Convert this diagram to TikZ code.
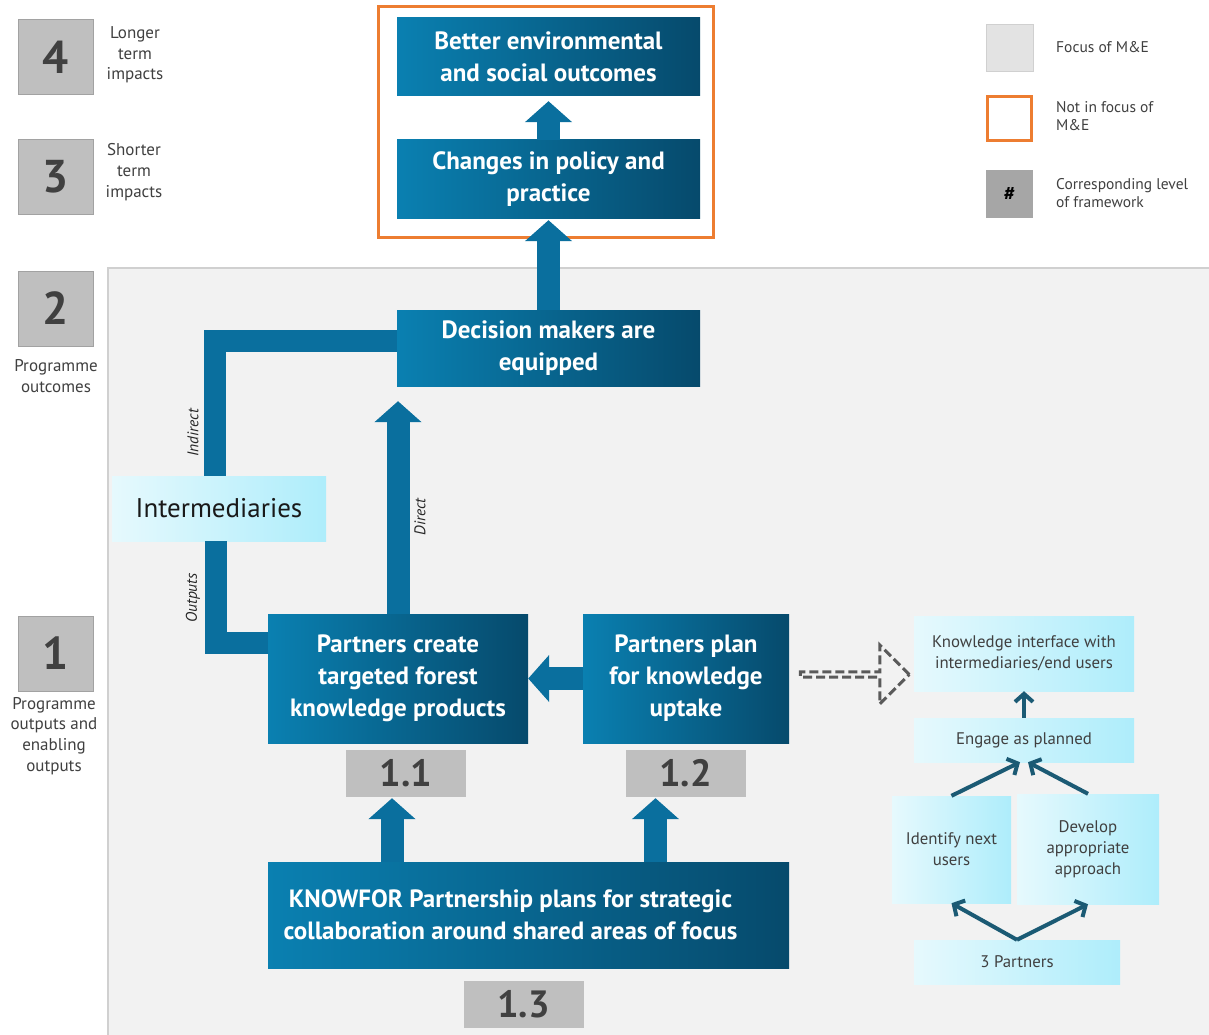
\documentclass[tikz,border=0pt]{standalone}
\usepackage{fontspec}
\setmainfont{PT Sans}
\usetikzlibrary{arrows.meta,shapes.arrows}
\definecolor{boxleft}{HTML}{0A80B1}
\definecolor{boxright}{HTML}{064A6C}
\definecolor{flowblue}{HTML}{0A6F9E}
\definecolor{paleleft}{HTML}{E6F9FD}
\definecolor{paleright}{HTML}{AEEDFB}
\definecolor{levelgray}{HTML}{BFBFBF}
\definecolor{focusgray}{HTML}{F2F2F2}
\definecolor{framegray}{HTML}{D0D0D0}
\definecolor{legendgray}{HTML}{E3E3E3}
\definecolor{hashgray}{HTML}{A6A6A6}
\definecolor{notfocus}{HTML}{ED7D31}
\definecolor{darktext}{HTML}{404040}
\definecolor{tealline}{HTML}{1B5A74}
\definecolor{hollowgray}{HTML}{5A5A5A}
\tikzstyle{darkbox}=[left color=boxleft, right color=boxright, text=white, align=center, inner sep=0pt, font=\fontsize{25}{32}\selectfont\bfseries]
\tikzstyle{palebox}=[left color=paleleft, right color=paleright, text=darktext, align=center, inner sep=0pt, font=\fontsize{16.8}{21}\selectfont]
\tikzstyle{levelbox}=[fill=levelgray, draw=levelgray!85!black, line width=0.6pt, minimum size=75pt, inner sep=0pt, text=darktext, font=\fontsize{46}{46}\selectfont\bfseries]
\tikzstyle{numbox}=[fill=levelgray, minimum height=47pt, inner sep=0pt, text=darktext, font=\fontsize{38}{38}\selectfont\bfseries]
\tikzstyle{levellabel}=[align=center, text=darktext, font=\fontsize{17}{20.7}\selectfont]
\tikzstyle{sidelabel}=[rotate=90, text=black!85, font=\fontsize{15.5}{15.5}\selectfont\itshape]
\tikzstyle{fat edge}=[draw=flowblue, line width=23pt, -{Triangle[length=21pt,width=46pt]}]
\tikzstyle{flow band}=[draw=flowblue, line width=22pt]
\tikzstyle{thin edge}=[draw=tealline, line width=4pt, -{Straight Barb[length=8pt,width=18pt]}]
\tikzstyle{hollow arrow}=[single arrow, draw=hollowgray, line width=3pt, dash pattern=on 9pt off 4pt, minimum height=109pt, minimum width=59pt, single arrow head extend=16pt, inner sep=0pt]
\tikzstyle{legend text}=[anchor=west, align=left, inner sep=0pt, text=darktext, font=\fontsize{15.5}{18}\selectfont]
\begin{document}
\begin{tikzpicture}[x=1pt, y=-1pt]
\useasboundingbox (0,0) rectangle (1209,1035);
\fill[white] (0,0) rectangle (1209,1035);

% the area that is the focus of M&E
\fill[focusgray] (108,268) rectangle (1209,1035);
\draw[framegray, line width=1.2pt] (108,1035) -- (108,268) -- (1209,268);

% levels of the framework
\foreach \pos/\name/\num in {{(56,57)/lvfour/4}, {(56,177)/lvthree/3}, {(55.5,308.5)/lvtwo/2}, {(56,653.5)/lvone/1}}
  \node[levelbox] (\name) at \pos {\num};
\node[levellabel] (lvfourtxt) at (135,55) {Longer\\term\\impacts};
\node[levellabel] (lvthreetxt) at (134,172) {Shorter\\term\\impacts};
\node[levellabel] (lvtwotxt) at (56,376) {Programme\\outcomes};
\node[levellabel] (lvonetxt) at (54,736) {Programme\\outputs and\\enabling\\outputs};

% the main boxes
\node[darkbox, minimum width=303pt, minimum height=78pt] (better) at (548.5,57) {Better environmental\\and social outcomes};
\node[darkbox, minimum width=303pt, minimum height=78pt] (chg) at (548.5,179) {Changes in policy and\\practice};
\node[darkbox, minimum width=303pt, minimum height=76pt] (dec) at (548.5,348) {Decision makers are\\equipped};
\node[darkbox, minimum width=260pt, minimum height=129pt] (create) at (398,678.5) {Partners create\\targeted forest\\knowledge products};
\node[darkbox, minimum width=206pt, minimum height=129pt] (plan) at (686,678.5) {Partners plan\\for knowledge\\uptake};
\node[darkbox, minimum width=521pt, minimum height=106pt] (kfp) at (528.5,915) {KNOWFOR Partnership plans for strategic\hspace*{36pt}\\collaboration around shared areas of focus\hspace*{36pt}};
\node[palebox, minimum width=214pt, minimum height=65pt, text=black!90, font=\fontsize{27}{27}\selectfont] (inter) at (219,508.5) {Intermediaries};

\foreach \pos/\name/\num in {{(406,773.5)/nb11/1.1}, {(685.5,773.5)/nb12/1.2}, {(523.5,1004.5)/nb13/1.3}}
  \node[numbox, minimum width=120pt] (\name) at \pos {\num};

% not in focus of M&E
\draw[notfocus, line width=3pt] ([xshift=-18pt,yshift=11pt]better.north west) rectangle ([xshift=13pt,yshift=-19pt]chg.south east);

% uptake steps
\node[palebox, minimum width=220pt, minimum height=75pt] (kiface) at (1024,653.5) {Knowledge interface with\\intermediaries/end users};
\node[palebox, minimum width=220pt, minimum height=44pt] (engage) at (1024,740) {Engage as planned};
\node[palebox, minimum width=119pt, minimum height=107pt] (ident) at (951.5,849.5) {Identify next\\users};
\node[palebox, minimum width=142pt, minimum height=110pt] (develop) at (1088,849) {Develop\\appropriate\\approach};
\node[palebox, minimum width=206pt, minimum height=44pt] (partners) at (1017,962) {3 Partners};
\node[hollow arrow] (hint) at (853.5,674.5) {};

% Connect boxes with the wide arrows
\coordinate (s11) at ([xshift=-14pt]nb11.south);
\coordinate (s12) at ([xshift=-30pt]nb12.south);
\path[fat edge, shorten >=5pt] (chg.north) -- (better.south);
\path[fat edge, shorten >=2pt] (dec.north) -- (chg.south);
\path[fat edge, shorten >=15pt] (create.north) -- (create.north |- dec.south);
\path[fat edge] (plan.west) -- (create.east);
\path[fat edge, shorten >=1pt] (s11 |- kfp.north) -- (s11);
\path[fat edge, shorten >=1pt] (s12 |- kfp.north) -- (s12);

\path[flow band] ([yshift=7pt]dec.west) -| ([xshift=-4pt]inter.north);
\path[flow band] ([xshift=-3pt]inter.south) |- ([yshift=36pt]create.west);
\node[sidelabel] (indirect) at (193,433) {Indirect};
\node[sidelabel] (outputs) at (193,598) {Outputs};
\node[sidelabel] (direct) at (420,517) {Direct};

% thin arrows between the steps
\path[thin edge] (engage.north) -- (kiface.south);
\path[thin edge] (ident.north) -- ([xshift=-4pt]engage.south);
\path[thin edge] (develop.north) -- ([xshift=4pt]engage.south);
\path[thin edge] (partners.north) -- (ident.south);
\path[thin edge] (partners.north) -- (develop.south);

% legend
\node[fill=legendgray, draw=framegray, minimum size=47pt] (lgfocus) at (1009.5,48) {};
\node[legend text] (lgfocustxt) at (1056,47) {Focus of M\&E};
\node[draw=notfocus, line width=3pt, fill=white, minimum size=44pt] (lgnot) at (1009,118.5) {};
\node[legend text] (lgnottxt) at (1056,116) {Not in focus of\\M\&E};
\node[fill=hashgray, minimum size=47pt, font=\fontsize{20}{20}\selectfont\bfseries] (lghash) at (1009.5,194) {\#};
\node[legend text] (lghashtxt) at (1056,193) {Corresponding level\\of framework};
\end{tikzpicture}
\end{document}
